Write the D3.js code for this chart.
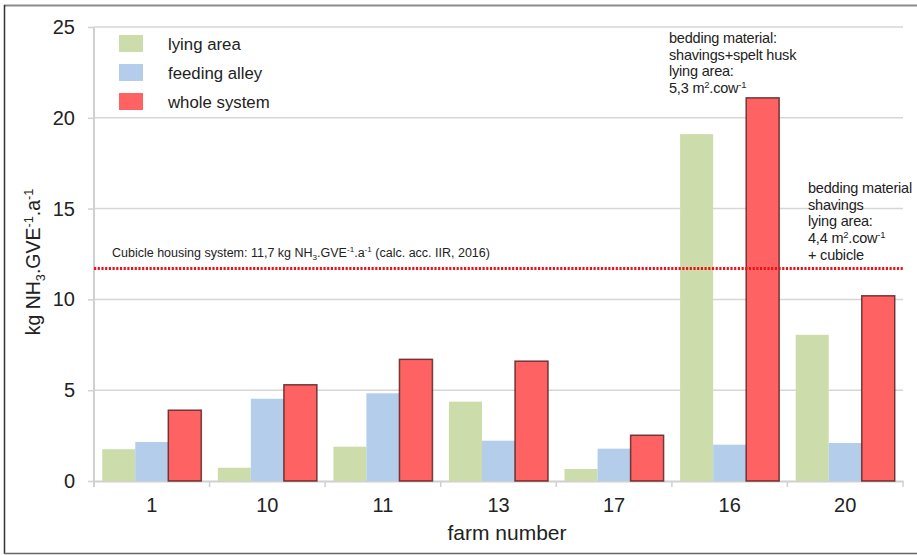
<!DOCTYPE html>
<html><head><meta charset="utf-8">
<script src="https://cdn.jsdelivr.net/npm/d3@7"></script>
<style>body{margin:0;background:#fff}svg{display:block;font-family:"Liberation Sans",Arial,sans-serif}</style>
</head><body>
<svg id="c" width="917" height="555"></svg>
<script>
const farms = ["1","10","11","13","17","16","20"];
const seriesNames = ["lying area","feeding alley","whole system"];
const lyingArea = [1.75, 0.73, 1.89, 4.37, 0.66, 19.1, 8.05];
const feedingAlley = [2.15, 4.53, 4.83, 2.22, 1.78, 2.0, 2.09];
const wholeSystem = [3.9, 5.3, 6.7, 6.6, 2.52, 21.1, 10.2];
const yTicks = [0,5,10,15,20,25];
const refValue = 11.7;
const colors = ["#cddcab","#b3cdea","#ff6262"];

const svg = d3.select("#c");
const x0 = d3.scaleBand().domain(farms).range([94,903]).paddingInner(0).paddingOuter(0);
const x1 = d3.scaleBand().domain(seriesNames).range([0,x0.bandwidth()]).paddingInner(0).paddingOuter(0.25);
const y = d3.scaleLinear().domain([0,25]).range([481,27]);

// frame
svg.append("line").attr("x1",4).attr("x2",917).attr("y1",5.5).attr("y2",5.5).attr("stroke","#8a8a8a").attr("stroke-width",2);
svg.append("line").attr("x1",4.5).attr("x2",4.5).attr("y1",5).attr("y2",554).attr("stroke","#333").attr("stroke-width",1.5);
svg.append("line").attr("x1",4).attr("x2",917).attr("y1",553.5).attr("y2",553.5).attr("stroke","#666").attr("stroke-width",1.5);

// grid
svg.append("g").selectAll("line").data(yTicks.filter(d=>d>0)).join("line")
  .attr("x1",94).attr("x2",903).attr("y1",d=>y(d)).attr("y2",d=>y(d))
  .attr("stroke","#d6d6d6").attr("stroke-width",1.5);

// y axis
const ya = svg.append("g").attr("transform","translate(94,0)")
  .call(d3.axisLeft(y).tickValues(yTicks).tickSize(6).tickPadding(13));
ya.select(".domain").attr("stroke","#d0d0d0").attr("stroke-width",2).attr("d","M0,"+y(25)+"V487");
ya.selectAll(".tick line").attr("stroke","#d0d0d0").attr("stroke-width",1.5);
ya.selectAll(".tick text").attr("font-size",20).attr("fill","#222").attr("font-family","Liberation Sans, Arial, sans-serif");

// x axis
const xa = svg.append("g").attr("transform","translate(0,481)")
  .call(d3.axisBottom(x0).tickSize(0).tickPadding(17));
xa.select(".domain").attr("stroke","#d0d0d0").attr("stroke-width",2);
xa.selectAll(".tick text").attr("font-size",20).attr("fill","#222").attr("font-family","Liberation Sans, Arial, sans-serif");
const bounds = farms.map(f=>x0(f)).concat([x0(farms[farms.length-1])+x0.bandwidth()]);
svg.append("g").selectAll("line").data(bounds).join("line")
  .attr("x1",d=>d).attr("x2",d=>d).attr("y1",481).attr("y2",487)
  .attr("stroke","#d0d0d0").attr("stroke-width",1.5);

// bars
const data = farms.map((f,i)=>({farm:f, vals:[lyingArea[i],feedingAlley[i],wholeSystem[i]]}));
const g = svg.append("g").selectAll("g").data(data).join("g").attr("transform",d=>`translate(${x0(d.farm)},0)`);
g.selectAll("rect").data(d=>d.vals.map((v,k)=>({k,v}))).join("rect")
  .attr("x",d=>x1(seriesNames[d.k])).attr("width",x1.bandwidth())
  .attr("y",d=>y(d.v)).attr("height",d=>y(0)-y(d.v))
  .attr("fill",d=>colors[d.k])
  .attr("stroke",d=>d.k===2?"rgba(70,20,20,0.75)":"none").attr("stroke-width",1.5);

// reference line
svg.append("line").attr("x1",94).attr("x2",903).attr("y1",y(refValue)).attr("y2",y(refValue))
  .attr("stroke","#e8141c").attr("stroke-width",3).attr("stroke-dasharray","2.2,1.5");

function richText(sel, parts, size){
  parts.forEach(p=>{
    const t = sel.append("tspan").text(p[0]);
    if(p[1]==="sub"){t.attr("font-size",size*0.65).attr("dy",size*0.25);}
    else if(p[1]==="sup"){t.attr("font-size",size*0.65).attr("dy",-size*0.38);}
    if(p[2]) t.attr("dy",p[2]);
  });
}
// ref label
const rl = svg.append("text").attr("x",112).attr("y",257).attr("font-size",12.5).attr("fill","#222");
richText(rl, [["Cubicle housing system: 11,7 kg NH"],["3","sub"],[".GVE",null,-12.5*0.25],["-1","sup"],[".a",null,12.5*0.38],["-1","sup"],[" (calc. acc. IIR, 2016)",null,12.5*0.38]], 12.5);

// y label
const yl = svg.append("text").attr("transform","translate(40,262) rotate(-90)").attr("text-anchor","middle").attr("font-size",19.5).attr("fill","#222");
richText(yl, [["kg NH"],["3","sub"],[".GVE",null,-19.5*0.25],["-1","sup"],[".a",null,19.5*0.38],["-1","sup"]], 19.5);

// x label
svg.append("text").attr("x",507).attr("y",540).attr("text-anchor","middle").attr("font-size",21).attr("fill","#222").text("farm number");

// legend
const lg = svg.append("g").selectAll("g").data(seriesNames).join("g")
  .attr("transform",(d,i)=>`translate(119,${35+i*29})`);
lg.append("rect").attr("width",24).attr("height",17).attr("fill",(d,i)=>colors[i]);
lg.append("text").attr("x",49).attr("y",14.5).attr("font-size",16.8).attr("fill","#222").text(d=>d);

// annotations
const nf = 14.5;
function note(x,y0,lines){
  lines.forEach((ln,i)=>{
    const t = svg.append("text").attr("x",x).attr("y",y0+i*16.7).attr("font-size",nf).attr("fill","#222").attr("letter-spacing",-0.2);
    richText(t, ln, nf);
  });
}
note(669,43,[[["bedding material:"]],[["shavings+spelt husk"]],[["lying area:"]],[["5,3 m"],["2","sup"],[".cow",null,nf*0.38],["-1","sup"]]]);
note(808,193,[[["bedding material"]],[["shavings"]],[["lying area:"]],[["4,4 m"],["2","sup"],[".cow",null,nf*0.38],["-1","sup"]],[["+ cubicle"]]]);
</script>
</body></html>
